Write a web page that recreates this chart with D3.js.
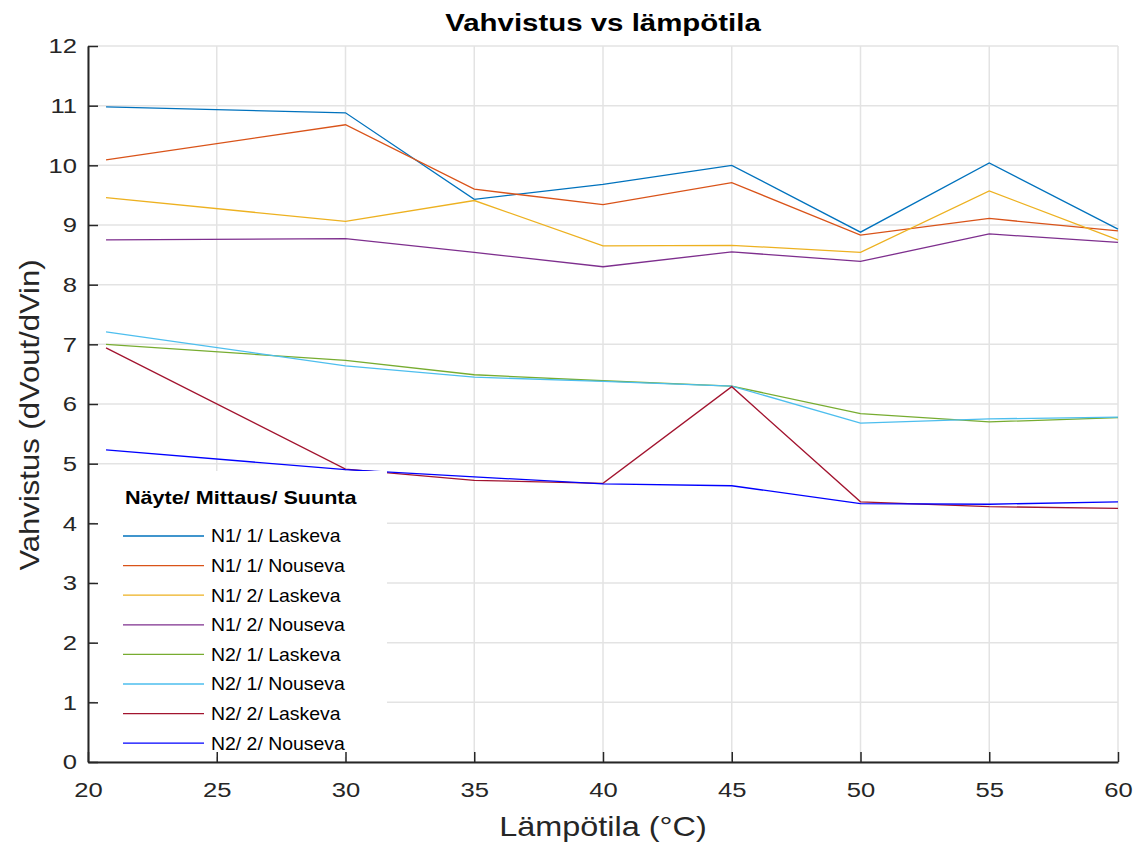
<!DOCTYPE html>
<html>
<head>
<meta charset="utf-8">
<script src="https://cdn.jsdelivr.net/npm/d3@7"></script>
<style>
  body { margin: 0; background: #fff; }
  text { font-family: Arial, "Liberation Sans", sans-serif; fill: #262626; }
</style>
</head>
<body>
<svg id="chart" width="1144" height="843"></svg>
<script>
// temperatures (°C)
const temps = [20.7, 30, 35, 40, 45, 50, 55, 60]

const seriesNames = [
  'N1/ 1/ Laskeva', 'N1/ 1/ Nouseva', 'N1/ 2/ Laskeva', 'N1/ 2/ Nouseva',
  'N2/ 1/ Laskeva', 'N2/ 1/ Nouseva', 'N2/ 2/ Laskeva', 'N2/ 2/ Nouseva'
]

const n1m1Down = [10.98, 10.88, 9.43, 9.68, 10.00, 8.88, 10.04, 8.93]
const n1m1Up = [10.09, 10.68, 9.60, 9.34, 9.71, 8.83, 9.11, 8.90]
const n1m2Down = [9.46, 9.06, 9.41, 8.65, 8.66, 8.54, 9.57, 8.75]
const n1m2Up = [8.75, 8.77, 8.54, 8.30, 8.55, 8.39, 8.85, 8.71]
const n2m1Down = [7.00, 6.73, 6.49, 6.39, 6.30, 5.84, 5.70, 5.77]
const n2m1Up = [7.21, 6.64, 6.45, 6.38, 6.30, 5.68, 5.75, 5.78]
const n2m2Down = [6.94, 4.91, 4.72, 4.67, 6.29, 4.36, 4.28, 4.25]
const n2m2Up = [5.23, 4.90, 4.78, 4.66, 4.63, 4.33, 4.32, 4.36]

const xTicks = [20, 25, 30, 35, 40, 45, 50, 55, 60]
const yTicks = [0, 1, 2, 3, 4, 5, 6, 7, 8, 9, 10, 11, 12]

const seriesValues = [n1m1Down, n1m1Up, n1m2Down, n1m2Up, n2m1Down, n2m1Up, n2m2Down, n2m2Up]
const colors = ['#0072BD', '#D95319', '#EDB120', '#7E2F8E', '#77AC30', '#4DBEEE', '#A2142F', '#0000FF']

const margin = { left: 88, right: 26, top: 46, bottom: 81 }
const width = 1144
const height = 843
const stretch = 1.22 // the reference text is drawn wider than plain Arial

const svg = d3.select('#chart')

const x =
  d3.scaleLinear()
    .domain([20, 60])
    .range([margin.left, width - margin.right])
const y =
  d3.scaleLinear()
    .domain([0, 12])
    .range([height - margin.bottom, margin.top])

// places a horizontally stretched label at (px, py)
function label (parent, px, py, k, rotate) {
  return parent.append('g')
    .attr('transform', `translate(${px}, ${py})${rotate ? ' rotate(-90)' : ''}`)
    .append('text')
      .attr('transform', `scale(${k}, 1)`)
}

// grid
svg.append('g')
  .selectAll('line')
  .data(yTicks)
  .enter()
  .append('line')
    .attr('x1', x(20)).attr('x2', x(60))
    .attr('y1', d => y(d)).attr('y2', d => y(d))
    .attr('stroke', '#e3e3e3')
    .attr('stroke-width', 1.5)

svg.append('g')
  .selectAll('line')
  .data(xTicks)
  .enter()
  .append('line')
    .attr('x1', d => x(d)).attr('x2', d => x(d))
    .attr('y1', y(0)).attr('y2', y(12))
    .attr('stroke', '#e3e3e3')
    .attr('stroke-width', 1.5)

// series
const line =
  d3.line()
    .x((d, i) => x(temps[i]))
    .y(d => y(d))

svg.append('g')
  .selectAll('path')
  .data(seriesValues)
  .enter()
  .append('path')
    .attr('fill', 'none')
    .attr('stroke', (d, i) => colors[i])
    .attr('stroke-width', 1.3)
    .attr('d', line)

// legend (white box hides the grid)
const legend =
  svg.append('g')
    .attr('transform', 'translate(95, 471)')

legend.append('rect')
  .attr('width', 292)
  .attr('height', 286)
  .attr('fill', '#fff')

label(legend, 30, 33, 1.2)
  .attr('font-size', 18)
  .attr('font-weight', 'bold')
  .style('fill', '#000')
  .text('Näyte/ Mittaus/ Suunta')

const rows =
  legend.selectAll('.row')
    .data(seriesNames)
    .enter()
    .append('g')
      .attr('class', 'row')
      .attr('transform', (d, i) => `translate(0, ${65 + i * 29.6})`)

rows.append('line')
  .attr('x1', 28).attr('x2', 109)
  .attr('stroke', (d, i) => colors[i])
  .attr('stroke-width', 1.3)

rows.append('text')
  .attr('transform', 'translate(116, 0) scale(1.08, 1)')
  .attr('dy', '0.36em')
  .attr('font-size', 18)
  .style('fill', '#000')
  .text(d => d)

// axes
const xAxis =
  d3.axisBottom(x)
    .tickValues(xTicks)
    .tickSizeInner(-10)
    .tickSizeOuter(0)
    .tickPadding(23)
const yAxis =
  d3.axisLeft(y)
    .tickValues(yTicks)
    .tickSizeInner(-10)
    .tickSizeOuter(0)

const gx = svg.append('g')
  .attr('transform', `translate(0, ${y(0)})`)
  .call(xAxis)
const gy = svg.append('g')
  .attr('transform', `translate(${x(20)}, 0)`)
  .call(yAxis)

for (const g of [gx, gy]) {
  g.select('.domain').attr('stroke', '#262626').attr('stroke-width', 2)
  g.selectAll('.tick line').attr('stroke', '#262626').attr('stroke-width', 1.5)
  g.selectAll('.tick text')
    .attr('font-size', 21)
    .attr('font-family', 'Arial, "Liberation Sans", sans-serif')
    .attr('transform', `scale(${stretch}, 1)`)
    .style('fill', '#262626')
}
gx.selectAll('.tick text').attr('dy', '0.55em')
gy.selectAll('.tick text').attr('x', -11 / stretch)

// titles
label(svg, (x(20) + x(60)) / 2, 31, 1.28)
  .attr('text-anchor', 'middle')
  .attr('font-size', 23)
  .attr('font-weight', 'bold')
  .style('fill', '#000')
  .text('Vahvistus vs lämpötila')

label(svg, (x(20) + x(60)) / 2, 836, 1.2)
  .attr('text-anchor', 'middle')
  .attr('font-size', 27)
  .text('Lämpötila (°C)')

label(svg, 39, (y(0) + y(12)) / 2 + 11, 1.15, true)
  .attr('text-anchor', 'middle')
  .attr('font-size', 27)
  .text('Vahvistus (dVout/dVin)')
</script>
</body>
</html>
